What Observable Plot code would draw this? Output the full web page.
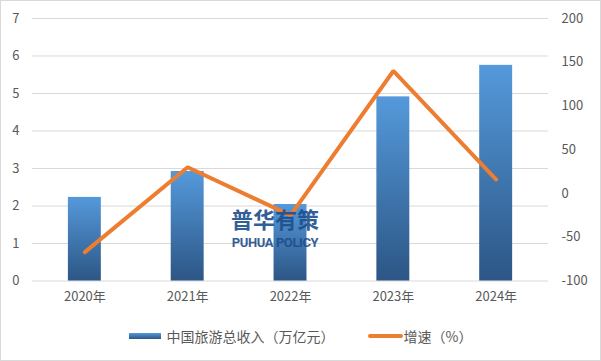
<!DOCTYPE html>
<html><head><meta charset="utf-8">
<script src="https://cdn.jsdelivr.net/npm/d3@7"></script>
<script src="https://cdn.jsdelivr.net/npm/@observablehq/plot@0.6"></script>
<style>
body{margin:0;background:#fff;}
#frame{position:relative;width:601px;height:361px;box-sizing:border-box;border:1px solid #d9d9d9;font-family:"Noto Sans CJK SC","Noto Sans",sans-serif;overflow:hidden;background:#fff}
#chart{position:absolute;left:-1px;top:-1px}
#legend{position:absolute;left:0;top:325px;width:599px;display:flex;justify-content:center;align-items:center;font-size:14px;color:#595959;gap:0}
.item{display:flex;align-items:center}
.sw-bar{width:32px;height:6px;background:linear-gradient(#5599db,#2c5685);margin-right:6px}
.sw-line{width:35px;height:4px;background:#ed7d31;border-radius:2px;margin-right:1px}
#wm{position:absolute;left:229px;top:206px;width:90px;color:#1e4e8c;opacity:0.9;text-align:center;line-height:1;pointer-events:none}
#wm .cn{font-size:22px;font-weight:bold;letter-spacing:0px}
#wm .en{font-size:13px;font-weight:bold;margin-top:7px;font-family:"Roboto","Noto Sans",sans-serif;letter-spacing:-0.4px}
</style>
</head><body>
<div id="frame">
  <div id="chart"></div>
  <div id="wm"><div class="cn">普华有策</div><div class="en">PUHUA POLICY</div></div>
  <div id="legend">
    <div class="item"><div class="sw-bar"></div><span id="lg1"></span></div>
    <div class="item" style="margin-left:33px"><div class="sw-line"></div><span id="lg2"></span></div>
  </div>
</div>
<script>
const years = ["2020年","2021年","2022年","2023年","2024年"];
const revenue = [2.23, 2.92, 2.04, 4.91, 5.75];
const growth = [-67, 30, -25, 140, 16];
const leftTicks = [0,1,2,3,4,5,6,7];
const rightTicks = [-100,-50,0,50,100,150,200];
const seriesNames = ["中国旅游总收入（万亿元）", "增速（%）"];

document.getElementById("lg1").textContent = seriesNames[0];
document.getElementById("lg2").textContent = seriesNames[1];

const toLeft = g => (g + 100) / 300 * 7;
const data = years.map((y, i) => ({year: y, revenue: revenue[i], growth: growth[i]}));

const svg = Plot.plot({
  width: 601, height: 318,
  marginTop: 18, marginBottom: 37, marginLeft: 32, marginRight: 52,
  style: {fontFamily: '"Noto Sans CJK SC","Noto Sans",sans-serif', fontSize: "13px", color: "#595959", background: "transparent"},
  x: {domain: years, paddingInner: 0.68, paddingOuter: 0.34},
  y: {domain: [0, 7]},
  marks: [
    Plot.gridY(leftTicks, {stroke: "#d9d9d9", strokeOpacity: 1}),
    Plot.barY(data, {x: "year", y: "revenue", fill: "url(#barGrad)"}),
    Plot.line(data, {x: "year", y: d => toLeft(d.growth), stroke: "#ed7d31", strokeWidth: 4, strokeLinejoin: "miter"}),
    Plot.axisY(leftTicks, {anchor: "left", tickSize: 0, tickPadding: 13, label: null, fill: "#595959"}),
    Plot.axisY(rightTicks.map(toLeft), {anchor: "right", tickSize: 0, tickPadding: 13, label: null, textAnchor: "start", fill: "#595959",
      tickFormat: d => String(Math.round(d * 300 / 7 - 100))}),
    Plot.axisX({tickSize: 0, tickPadding: 11, label: null, fill: "#595959"})
  ]
});
const defs = d3.select(svg).insert("defs", ":first-child");
const g = defs.append("linearGradient").attr("id", "barGrad").attr("x1", 0).attr("y1", 0).attr("x2", 0).attr("y2", 1);
g.append("stop").attr("offset", "0%").attr("stop-color", "#5599db");
g.append("stop").attr("offset", "100%").attr("stop-color", "#2c5685");
document.getElementById("chart").appendChild(svg);
</script>
</body></html>
